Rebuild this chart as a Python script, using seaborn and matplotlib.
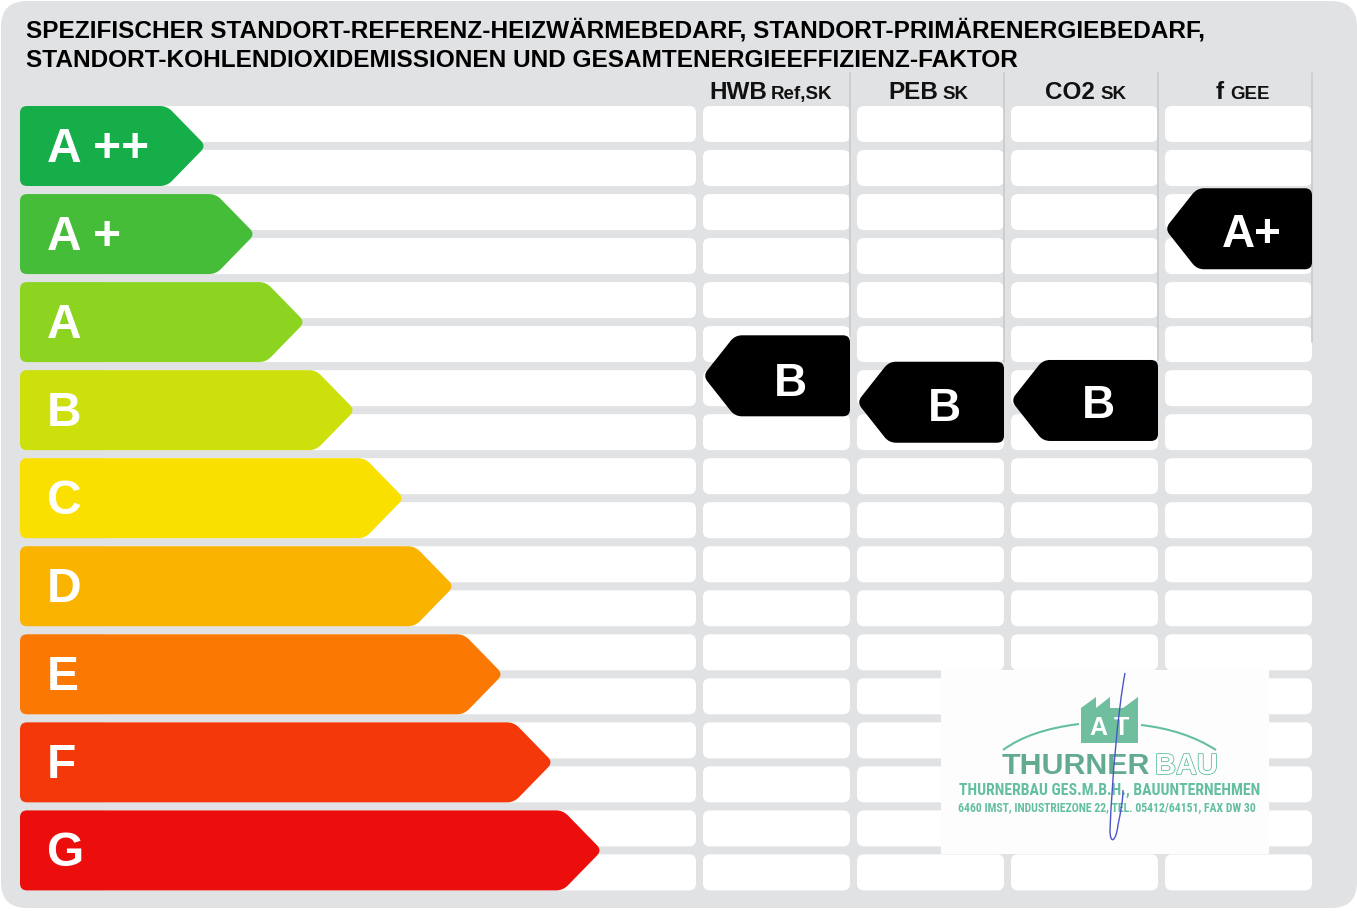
import matplotlib
matplotlib.use("Agg")
import matplotlib.pyplot as plt
import matplotlib.patheffects as pe
import numpy as np
import pandas as pd
import seaborn as sns
from matplotlib.patches import PathPatch, Polygon, Rectangle
from matplotlib.path import Path
from matplotlib.transforms import Affine2D

# data
classes = ["A ++", "A +", "A", "B", "C", "D", "E", "F", "G"]
class_tips = [205, 254, 304, 354, 403, 453, 502, 552, 601]
class_colors = ["#15ae48", "#45bd38", "#8cd41f", "#cde00c", "#f9e000",
                "#fab400", "#fb7902", "#f4380a", "#ec0e0c"]

indicator_main = ["HWB", "PEB", "CO2", "f"]
indicator_sub = ["Ref,SK", "SK", "SK", "GEE"]
indicator_class = ["B", "B", "B", "A+"]
# where the black marker sits, in class rows (0 = A ++)
indicator_pos = [2.61, 2.91, 2.89, 0.94]

title_lines = ["SPEZIFISCHER STANDORT-REFERENZ-HEIZWÄRMEBEDARF, STANDORT-PRIMÄRENERGIEBEDARF,",
               "STANDORT-KOHLENDIOXIDEMISSIONEN UND GESAMTENERGIEEFFIZIENZ-FAKTOR"]

# layout in pixels
W, H = 1357, 911
ROW0, PITCH = 146, 88.05
col_left = [703, 857, 1011, 1165]
col_right = [850, 1004, 1158, 1312]
head_main_x = [709, 888, 1045, 1216]
head_sub_x = [771, 942, 1100, 1230]
sep_x = [850, 1004, 1158, 1312]
sep_end = [336, 362, 360, 342]
marker_text_dy = [20, 19, 18, 18]

sns.set_theme(style="white")
plt.rcParams["font.family"] = ["Liberation Sans", "DejaVu Sans"]

fig = plt.figure(figsize=(W / 100, H / 100), dpi=100, facecolor="white")
ax = fig.add_axes([0, 0, 1, 1])

df = pd.DataFrame({"klasse": classes, "tip": class_tips})
sns.barplot(data=df, y="klasse", x="tip", hue="klasse", palette=class_colors,
            order=classes, hue_order=classes, width=80 / PITCH, legend=False,
            dodge=False, ax=ax)
ax.set_xlim(0, W)
ax.set_ylim((H - ROW0) / PITCH, -ROW0 / PITCH)
ax.axis("off")

# pixel coords on top of the class axis
px = Affine2D().scale(1, 1 / PITCH).translate(0, -ROW0 / PITCH) + ax.transData


def rounded(points, r):
    verts, codes = [], []
    n = len(points)
    for i in range(n):
        p = np.array(points[i], float)
        a = np.array(points[i - 1], float)
        b = np.array(points[(i + 1) % n], float)
        ra = min(r, np.linalg.norm(a - p) / 2)
        rb = min(r, np.linalg.norm(b - p) / 2)
        start = p + (a - p) / np.linalg.norm(a - p) * ra
        end = p + (b - p) / np.linalg.norm(b - p) * rb
        verts += [start, p, end]
        codes += [Path.LINETO if i else Path.MOVETO, Path.CURVE3, Path.CURVE3]
    verts.append(verts[0])
    codes.append(Path.CLOSEPOLY)
    return Path(verts, codes)


def shape(points, r, color, z):
    ax.add_patch(PathPatch(rounded(points, r), facecolor=color, edgecolor="none",
                           transform=px, zorder=z))


def box(x0, y0, x1, y1, r, color, z):
    shape([(x0, y0), (x1, y0), (x1, y1), (x0, y1)], r, color, z)


def fit_text(x, y, s, width, size, **kw):
    # shrink the text until it fits the width it has in the stamp
    t = ax.text(x, y, s, fontsize=size, transform=px, **kw)
    w = t.get_window_extent(fig.canvas.get_renderer()).width
    t.set_fontsize(size * width / w)
    return t


# grey card
box(1, 1, W, 908, 26, "#e1e2e4", 0)

# white rows
for i in range(len(classes)):
    top = ROW0 + PITCH * i - 40
    for y0, y1 in [(top, top + 36), (top + 44, top + 80)]:
        box(100, y0, 696, y1, 7, "white", 1)
        for x0, x1 in zip(col_left, col_right):
            box(x0, y0, x1, y1, 7, "white", 1)

# separators
for x, y1 in zip(sep_x, sep_end):
    ax.plot([x, x], [73, y1], color="#c9cacc", lw=1.2, transform=px, zorder=2)

# class arrows, from the seaborn bars
for bar, label in zip(ax.patches, classes):
    i = classes.index(label)
    tip = bar.get_width()
    bar.set_visible(False)
    yc = ROW0 + PITCH * i
    top, bottom = yc - 40, yc + 40
    shape([(20, top), (tip - 38, top), (tip + 1, yc), (tip - 38, bottom), (20, bottom)],
          7, class_colors[i], 3)
    ax.text(47, yc + 16, label, color="white", fontsize=34.5, fontweight="bold",
            transform=px, zorder=4)

# title
ax.text(26, 38, title_lines[0], fontsize=17.55, fontweight="bold", color="black", transform=px)
ax.text(26, 67, title_lines[1], fontsize=17.55, fontweight="bold", color="black", transform=px)

# column heads and markers
for k in range(4):
    ax.text(head_main_x[k], 99, indicator_main[k], fontsize=17.5, fontweight="bold",
            color="#111111", transform=px)
    ax.text(head_sub_x[k], 99, indicator_sub[k], fontsize=13.5, fontweight="bold",
            color="#111111", transform=px)
    right = sep_x[k]
    left = right - 147
    yc = ROW0 + PITCH * indicator_pos[k]
    shape([(left, yc), (left + 32, yc - 40.5), (right, yc - 40.5), (right, yc + 40.5),
           (left + 32, yc + 40.5)], 7, "black", 5)
    ax.text(right - 60, yc + marker_text_dy[k], indicator_class[k], color="white", fontsize=33,
            fontweight="bold", ha="center", transform=px, zorder=6)

# stamp
narrow = ["Roboto Condensed", "Liberation Sans"]
ax.add_patch(Rectangle((941, 670), 328, 184, facecolor="#fdfdfe", edgecolor="none",
                       transform=px, zorder=7))
green = "#63bf9f"
ax.add_patch(Polygon([(1081, 708), (1096, 697), (1096, 708), (1110, 697), (1110, 708),
                      (1123, 708), (1138, 697), (1138, 743), (1081, 743)], closed=True,
                     facecolor="#6fbf9f", edgecolor="none", transform=px, zorder=8))
ax.text(1110, 735, "A T", color="white", fontsize=18, fontweight="bold", ha="center",
        transform=px, zorder=9)
ax.add_patch(PathPatch(Path([(1003, 750), (1030, 730), (1079, 724)],
                            [Path.MOVETO, Path.CURVE3, Path.CURVE3]),
                       fill=False, edgecolor=green, lw=1.5, transform=px, zorder=8))
ax.add_patch(PathPatch(Path([(1141, 725), (1185, 730), (1216, 750)],
                            [Path.MOVETO, Path.CURVE3, Path.CURVE3]),
                       fill=False, edgecolor=green, lw=1.5, transform=px, zorder=8))
fit_text(1002, 774, "THURNER", 149, 24, color="#63ab90", fontweight="bold", zorder=8)
fit_text(1155, 774, "BAU", 63, 24, color="#fdfdfe", fontweight="bold", zorder=8,
         path_effects=[pe.withStroke(linewidth=1.2, foreground=green)])
fit_text(959, 795, "THURNERBAU GES.M.B.H., BAUUNTERNEHMEN", 301, 13, color=green,
         fontweight="bold", family=narrow, zorder=8)
fit_text(958, 811, "6460 IMST, INDUSTRIEZONE 22, TEL. 05412/64151, FAX DW 30", 301, 10,
         color=green, fontweight="bold", family=narrow, zorder=8)
ax.add_patch(PathPatch(Path([(1125, 673), (1118, 710), (1112, 780), (1110, 830),
                             (1110, 845), (1116, 842), (1118, 825),
                             (1121, 810), (1123, 800), (1123, 790)],
                            [Path.MOVETO] + [Path.CURVE4] * 9),
                       fill=False, edgecolor="#4a55c8", lw=1.0, transform=px, zorder=10))

fig.savefig("out.png", dpi=100, facecolor="white")
